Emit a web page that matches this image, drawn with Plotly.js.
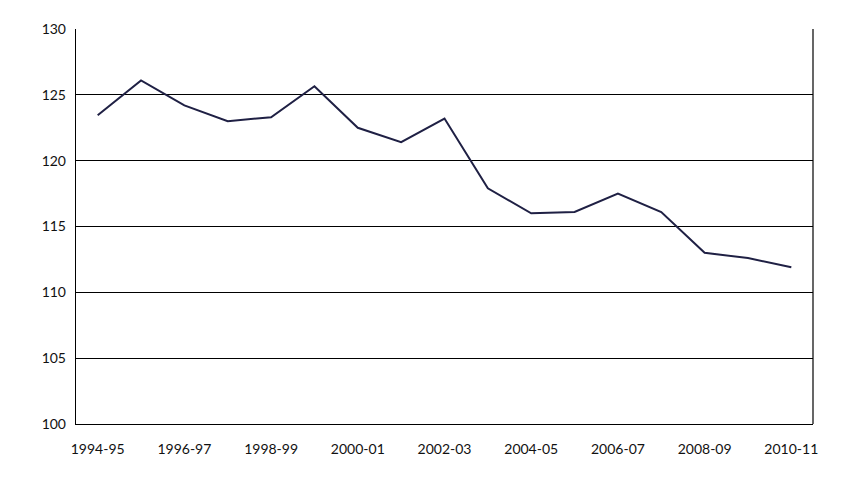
<!DOCTYPE html>
<html>
<head>
<meta charset="utf-8">
<script src="https://cdn.plot.ly/plotly-3.0.1.min.js"></script>
<style>html,body{margin:0;padding:0;background:#fff;}#chart{width:858px;height:478px;}</style>
</head>
<body>
<div id="chart"></div>
<script>
const years = ["1994-95","1995-96","1996-97","1997-98","1998-99","1999-00","2000-01","2001-02","2002-03","2003-04","2004-05","2005-06","2006-07","2007-08","2008-09","2009-10","2010-11"];
const values = [123.45,126.1,124.2,123.0,123.3,125.65,122.5,121.4,123.2,117.9,116.0,116.1,117.5,116.1,113.0,112.6,111.9];
const tickLabels = ["1994-95","1996-97","1998-99","2000-01","2002-03","2004-05","2006-07","2008-09","2010-11"];
const yTicks = [100,105,110,115,120,125,130];

const trace = {
  x: years, y: values, type: 'scatter', mode: 'lines',
  line: {color: '#1f2044', width: 2},
  hoverinfo: 'skip'
};
const layout = {
  width: 858, height: 478,
  margin: {l: 76, r: 45, t: 29, b: 54},
  paper_bgcolor: '#fff', plot_bgcolor: '#fff',
  showlegend: false,
  font: {family: 'Lato, "DejaVu Sans", sans-serif', size: 14, color: '#111'},
  xaxis: {
    type: 'category', categoryorder: 'array', categoryarray: years,
    range: [-0.5, years.length - 0.5],
    tickvals: tickLabels, ticktext: tickLabels,
    showgrid: false, zeroline: false,
    showline: true, linecolor: '#000', linewidth: 1.2, mirror: false,
    ticks: '', ticklen: 0, tickfont: {size: 14}, ticklabelstandoff: 12
  },
  yaxis: {
    range: [100, 130], tickvals: yTicks,
    showgrid: true, gridcolor: '#000', gridwidth: 1,
    zeroline: false, showline: true, linecolor: '#000', linewidth: 1.2,
    ticks: '', tickfont: {size: 14}, ticklabelstandoff: 6
  },
  shapes: [{type: 'line', xref: 'paper', yref: 'paper', x0: 1, x1: 1, y0: 0, y1: 1, line: {color: '#000', width: 1.2}}]
};
Plotly.newPlot('chart', [trace], layout, {staticPlot: true});
</script>
</body>
</html>
